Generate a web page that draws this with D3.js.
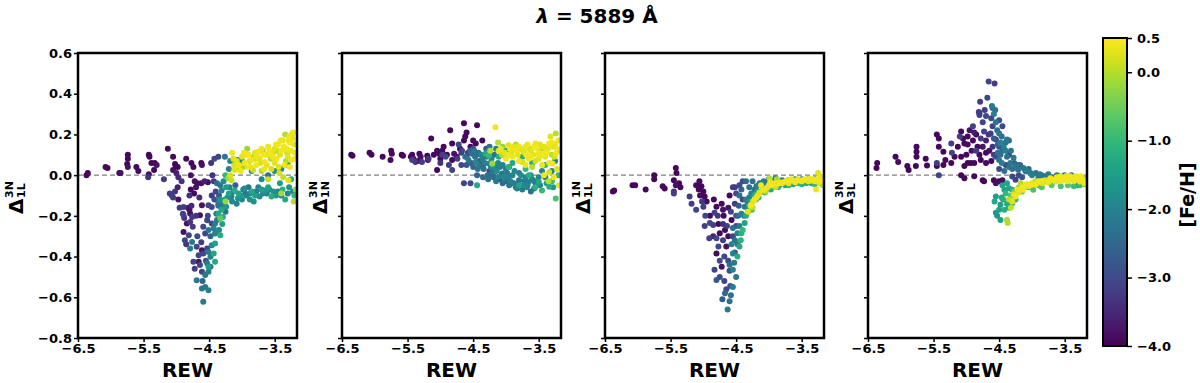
<!DOCTYPE html>
<html>
<head>
<meta charset="utf-8">
<style>
  body { margin: 0; background: #fff; }
  svg { font-family: 'DejaVu Sans', sans-serif; font-weight: bold; }
  .axis .domain { display: none; }
  .axis .tick line { stroke: #000; stroke-width: 1.5px; }
  .axis .tick text { font-size: 13px; font-weight: bold; fill: #000; font-family: 'DejaVu Sans', sans-serif; }
</style>
</head>
<body>
<svg width="1200" height="383"></svg>
<script src="https://d3js.org/d3.v7.min.js"></script>
<script>
// tick values
const xTicks = [-6.5, -5.5, -4.5, -3.5];
const yTicks = [-0.8, -0.6, -0.4, -0.2, 0.0, 0.2, 0.4, 0.6];
const cbTicks = [0.5, 0.0, -1.0, -2.0, -3.0, -4.0];

// y label scripts per panel: Delta^{sup}_{sub}
const labelSup = ["3N", "3N", "1N", "3N"];
const labelSub = ["1L", "1N", "1L", "3L"];

// points: [REW, delta, [Fe/H]]
const panel1 = [
  [-6.37,0.00,-3.9],[-6.35,0.01,-3.9],[-6.08,0.04,-3.9],[-6.05,0.035,-3.9],[-5.87,0.01,-3.9],[-5.85,0.01,-3.8],
  [-5.74,0.10,-3.9],[-5.74,0.08,-3.9],[-5.75,0.055,-3.9],[-5.74,0.04,-3.8],[-5.61,0.04,-3.9],[-5.58,0.02,-3.9],
  [-5.42,0.10,-3.9],[-5.41,0.09,-3.9],[-5.38,0.06,-3.9],[-5.33,0.06,-3.9],[-5.30,0.05,-3.8],[-5.34,0.025,-3.9],[-5.42,0.005,-3.8],[-5.43,-0.01,-3.3],
  [-5.13,0.13,-3.9],[-5.05,0.09,-3.9],[-5.02,0.055,-3.9],[-5.01,0.045,-3.9],[-4.98,0.04,-3.9],[-5.05,0.025,-3.8],[-5.00,0.01,-3.6],
  [-4.85,0.08,-3.9],[-4.77,0.06,-3.9],[-4.74,0.04,-3.9],[-4.62,0.06,-3.9],[-4.61,0.05,-3.8],[-4.47,0.06,-3.3],[-4.42,0.08,-3.0],[-4.36,0.09,-3.1],
  [-5.19,-0.02,-3.2],[-4.97,-0.01,-3.5],[-4.92,-0.03,-3.3],[-4.78,0.00,-3.8],[-4.72,-0.03,-3.8],[-4.68,-0.04,-3.9],[-4.62,-0.04,-3.8],[-4.57,-0.03,-3.6],
  [-4.45,0.00,-3.3],[-4.43,-0.03,-3.2],[-4.52,-0.035,-3.9],
  [-5.02,-0.08,-3.3],[-4.98,-0.06,-3.6],[-5.07,-0.10,-3.2],[-4.78,-0.07,-3.9],[-4.73,-0.09,-3.9],[-4.70,-0.06,-3.8],[-4.80,-0.10,-3.4],[-4.65,-0.11,-3.5],
  [-5.10,-0.09,-3.2],[-5.05,-0.11,-3.2],[-4.97,-0.12,-3.8],[-4.95,-0.16,-3.2],[-4.90,-0.19,-3.2],[-4.88,-0.21,-3.3],[-4.82,-0.16,-3.8],[-4.80,-0.17,-3.8],[-4.77,-0.15,-3.5],
  [-4.89,-0.156,-3.2],[-4.89,-0.197,-3.1],[-4.79,-0.188,-3.8],[-4.76,-0.205,-3.2],[-4.84,-0.238,-3.8],[-4.79,-0.23,-3.3],[-4.75,-0.254,-3.2],
  [-4.64,-0.197,-3.8],[-4.61,-0.148,-3.8],[-4.51,-0.148,-3.1],[-4.46,-0.156,-3.0],[-4.36,-0.14,-2.2],[-4.25,-0.13,-0.2],[-4.31,-0.164,-2.2],
  [-4.36,-0.188,-1.3],[-4.33,-0.213,-0.6],[-4.41,-0.238,-2.1],[-4.46,-0.238,-3.0],[-4.53,-0.221,-3.1],[-4.59,-0.254,-3.1],[-4.56,-0.287,-3.1],
  [-4.51,-0.27,-2.2],[-4.43,-0.262,-2.0],[-4.41,-0.287,-2.0],[-4.33,-0.295,-1.2],[-4.89,-0.279,-3.8],[-4.81,-0.295,-3.1],[-4.87,-0.32,-3.1],
  [-4.76,-0.328,-2.2],[-4.79,-0.36,-2.1],[-4.69,-0.352,-3.0],[-4.66,-0.393,-3.1],[-4.61,-0.369,-3.8],[-4.59,-0.385,-3.1],[-4.53,-0.36,-3.1],
  [-4.51,-0.377,-2.2],[-4.48,-0.401,-2.1],[-4.43,-0.385,-1.3],[-4.41,-0.336,-1.4],[-4.46,-0.344,-2.0],[-4.41,-0.426,-1.3],[-4.74,-0.426,-3.1],
  [-4.66,-0.426,-3.8],[-4.64,-0.442,-3.1],[-4.53,-0.434,-2.2],[-4.51,-0.45,-1.5],[-4.61,-0.475,-3.1],[-4.56,-0.491,-2.2],[-4.51,-0.475,-2.1],
  [-4.69,-0.516,-2.2],[-4.61,-0.557,-2.2],[-4.56,-0.549,-2.2],[-4.51,-0.565,-2.1],[-4.59,-0.622,-2.2],
  [-4.70,-0.20,-3.3],[-4.68,-0.30,-3.0],[-4.62,-0.33,-3.2],[-4.55,-0.42,-2.8],[-4.48,-0.45,-2.3],[-4.60,-0.52,-2.6],[-4.72,-0.46,-3.2],
  [-4.85,-0.34,-3.3],[-4.52,-0.20,-3.0],[-4.48,-0.30,-2.6],
  [-4.15,0.11,0.4],[-4.08,0.07,0.3],[-4.05,0.05,0.4],[-4.11,0.025,0.3],[-4.18,0.00,0.2],[-4.16,-0.025,0.1],[-4.21,-0.015,-0.2],[-4.00,0.09,0.3],
  [-3.96,0.06,0.4],[-3.93,0.10,0.3],[-3.90,0.10,0.4],[-3.88,0.07,0.2],[-3.85,0.075,0.4],[-3.83,0.025,0.1],[-3.80,0.11,0.3],[-3.78,0.05,0.4],
  [-3.75,0.115,0.4],[-3.73,0.08,0.3],[-3.70,0.13,0.4],[-3.68,0.12,0.0],[-3.65,0.065,0.4],[-3.63,0.10,0.3],[-3.60,0.14,0.4],[-3.57,0.105,0.4],
  [-3.55,0.03,0.2],[-3.53,0.09,0.4],[-3.50,0.06,0.3],[-3.48,0.15,0.4],[-3.46,0.12,0.0],[-3.45,0.15,0.4],[-3.43,0.01,0.2],[-3.40,0.12,0.4],
  [-3.38,0.17,0.3],[-3.37,-0.01,0.1],[-3.35,0.05,0.4],[-3.34,0.20,0.0],[-3.32,0.13,0.4],[-3.30,0.09,0.3],[-3.29,0.17,0.4],[-3.29,-0.025,0.3],
  [-3.27,0.04,0.4],[-3.25,0.12,0.4],[-3.24,0.20,0.0],[-3.22,0.21,0.4],[-3.20,0.15,0.3],[-3.19,0.08,0.4],[-3.18,-0.07,-0.3],[-3.24,0.075,0.4],
  [-3.40,-0.09,-0.1],[-3.21,-0.13,0.0],[-3.70,0.02,0.0],[-3.60,-0.02,0.1],[-3.98,0.04,-0.1],[-3.92,0.13,-0.2],
  [-4.12,0.05,0.2],[-4.02,0.02,0.4],[-3.97,0.11,0.4],[-3.87,0.04,0.3],[-3.82,0.09,0.0],[-3.77,0.09,0.4],[-3.72,0.06,0.2],[-3.67,0.10,0.4],
  [-3.62,0.05,0.3],[-3.58,0.12,0.4],[-3.52,0.11,0.2],[-3.47,0.08,0.4],[-3.42,0.10,0.3],[-3.36,0.14,0.4],[-3.31,0.11,0.2],[-3.27,0.16,0.4],
  [-3.23,0.18,0.3],[-3.19,0.11,0.4],[-3.33,0.07,0.0],[-3.44,0.04,0.3],[-3.56,0.08,0.0],[-3.66,0.03,0.4],[-3.79,0.08,0.2],[-3.90,0.04,0.4],
  [-4.04,0.03,0.0],[-4.13,0.08,0.3],[-3.41,0.17,0.4],[-3.28,0.19,0.4],[-3.50,0.13,0.3],
  [-4.11,0.065,-2.0],[-4.06,0.075,-2.1],[-4.00,0.07,-1.8],[-3.85,0.02,-2.0],[-3.70,-0.02,-1.9],[-3.60,0.00,-2.2],[-3.50,0.02,-1.8],[-3.40,0.03,-2.0],
  [-3.30,0.05,-2.0],[-3.25,-0.02,-1.2],[-4.26,0.09,-2.2],[-4.20,0.03,-2.0],[-4.18,0.07,-1.9],
  [-4.31,-0.075,-2.0],[-4.24,-0.06,-1.5],[-4.11,-0.075,-1.2],[-3.96,-0.065,-1.8],[-3.85,-0.08,-1.3],[-3.75,-0.06,-2.0],[-3.65,-0.075,-1.6],
  [-3.55,-0.105,-1.2],[-3.45,-0.08,-2.0],[-3.34,-0.12,-1.3],[-3.73,-0.105,-1.8],[-3.93,-0.10,-2.0],[-4.06,-0.115,-1.7],[-4.16,-0.105,-2.1],
  [-4.26,-0.12,-1.5],[-4.36,-0.15,-2.2],[-4.31,-0.17,-1.3],[-4.24,-0.155,-1.6],[-4.39,-0.19,-2.3],[-4.29,-0.205,-1.2],[-4.20,-0.09,-1.4],
  [-4.15,-0.13,-1.9],[-4.05,-0.09,-1.4],[-4.00,-0.12,-1.9],[-3.90,-0.06,-2.3],[-3.80,-0.10,-1.5],[-3.68,-0.09,-1.9],[-3.60,-0.06,-1.4],
  [-3.52,-0.08,-1.7],[-3.42,-0.04,-1.5],[-3.38,-0.07,-1.1],[-3.30,-0.09,-2.0],[-3.20,-0.10,-1.0],[-3.82,-0.13,-1.7],[-3.95,-0.09,-2.4],
  [-4.10,-0.05,-2.6],[-4.35,-0.10,-2.8],[-4.40,-0.08,-3.0],[-4.42,-0.12,-2.9],[-4.46,-0.10,-3.2],[-4.38,-0.04,-2.4],[-4.33,-0.05,-2.2],
  [-4.28,-0.03,-1.8],[-4.25,0.00,-1.0],
  [-4.22,-0.11,-1.8],[-4.13,-0.08,-2.2],[-4.02,-0.10,-1.6],[-3.98,-0.07,-2.0],[-3.88,-0.09,-1.9],[-3.78,-0.08,-2.1],[-3.70,-0.07,-1.5],
  [-3.62,-0.09,-2.0],[-3.58,-0.07,-1.8],[-3.48,-0.10,-1.6],[-3.40,-0.10,-2.0],[-3.28,-0.06,-1.6],[-3.22,-0.08,-2.0],[-4.28,-0.14,-2.0],
  [-4.34,-0.12,-1.7],[-4.25,-0.18,-2.3],[-4.19,-0.06,-2.0],[-4.08,-0.14,-2.0],[-3.88,-0.12,-1.7],[-4.30,-0.24,-1.5],[-4.38,-0.22,-2.2],[-4.35,-0.27,-1.9]
];

const panel2 = [
  [-6.36,0.10,-3.9],[-6.34,0.095,-3.9],[-6.08,0.11,-3.9],[-6.05,0.10,-3.9],[-5.88,0.09,-3.9],[-5.75,0.12,-3.9],[-5.74,0.105,-3.9],[-5.76,0.075,-3.9],
  [-5.59,0.10,-3.9],[-5.57,0.095,-3.9],[-5.43,0.10,-3.9],[-5.41,0.08,-3.8],[-5.34,0.07,-3.9],[-5.32,0.105,-3.9],[-5.20,0.095,-3.9],[-5.19,0.075,-3.8],
  [-5.14,0.18,-3.9],[-5.05,0.12,-3.9],[-5.02,0.105,-3.9],[-5.00,0.08,-3.9],[-5.05,0.025,-3.9],[-4.97,0.12,-3.9],[-4.85,0.22,-3.9],[-4.82,0.155,-3.9],
  [-4.79,0.105,-3.8],[-4.82,0.075,-3.9],[-4.64,0.255,-3.9],[-4.64,0.17,-3.9],[-4.62,0.19,-3.9],[-4.44,0.245,-3.9],[-4.46,0.155,-3.9],[-4.36,0.17,-3.9],
  [-4.54,0.14,-3.9],[-5.45,0.09,-3.9],[-5.30,0.09,-3.8],[-5.10,0.10,-3.9],[-4.90,0.10,-3.9],[-4.95,0.14,-3.9],[-4.70,0.13,-3.9],[-4.60,0.21,-3.9],
  [-4.75,0.09,-3.9],[-4.50,0.17,-3.9],
  [-5.43,0.075,-3.2],[-5.28,0.065,-3.2],[-5.18,0.08,-3.3],[-4.97,0.10,-3.2],[-4.92,0.09,-3.0],[-4.87,0.05,-3.2],[-4.82,0.025,-3.1],[-4.72,0.15,-3.0],
  [-4.67,0.12,-3.1],[-4.74,0.08,-3.2],[-4.64,-0.04,-3.1],[-4.54,-0.04,-3.0],[-4.60,0.09,-3.3],[-4.68,0.05,-3.0],[-4.58,0.11,-3.1],[-4.50,0.13,-3.0],
  [-4.45,0.10,-2.9],[-4.40,0.07,-3.0],[-4.35,0.04,-2.9],[-4.20,0.00,-3.1],[-4.10,-0.02,-3.0],[-4.00,-0.03,-3.0],[-3.90,-0.04,-2.9],[-5.00,0.06,-3.3],
  [-5.38,0.065,-3.3],[-4.25,0.02,-3.2],[-4.30,0.13,-3.0],[-4.68,0.11,-3.2],
  [-4.62,0.09,-2.3],[-4.57,0.075,-2.2],[-4.52,0.105,-2.4],[-4.46,0.065,-2.0],[-4.41,0.05,-2.2],[-4.36,0.08,-2.1],[-4.34,0.03,-2.3],[-4.26,0.057,-2.0],
  [-4.21,0.016,-2.2],[-4.16,0.04,-2.1],[-4.11,-0.008,-2.0],[-4.06,0.008,-2.2],[-4.01,-0.025,-2.3],[-3.96,-0.008,-2.0],[-3.88,-0.04,-2.1],[-3.83,-0.065,-2.0],
  [-3.80,-0.025,-2.2],[-3.73,-0.05,-1.9],[-3.65,-0.033,-2.0],[-3.57,-0.065,-2.1],[-3.85,-0.06,-2.0],[-4.55,0.12,-2.6],[-4.48,0.12,-2.2],[-4.42,0.11,-2.4],
  [-4.38,0.10,-2.0],[-4.30,0.09,-2.2],[-4.28,0.12,-2.1],[-4.22,0.08,-2.0],[-4.18,0.10,-2.2],[-4.12,0.06,-1.9],[-4.05,0.05,-2.0],[-4.00,0.03,-2.2],
  [-3.95,0.04,-1.9],[-3.90,0.00,-2.0],[-3.80,0.01,-2.1],[-3.70,-0.01,-2.0],[-3.60,-0.02,-2.0],[-3.50,-0.01,-1.9],[-3.45,0.02,-2.0],[-3.40,-0.01,-2.2],
  [-3.30,0.02,-2.0],[-3.25,0.07,-2.0],[-4.50,0.04,-2.5],[-4.44,0.00,-2.6],[-4.35,-0.01,-2.4],[-4.27,-0.02,-2.3],[-4.15,-0.03,-2.2],[-4.05,-0.04,-2.4],
  [-3.95,-0.05,-2.2],[-3.75,-0.07,-2.2],[-3.68,-0.06,-2.0],[-3.62,-0.08,-2.3],[-3.55,-0.04,-2.1],[-4.15,0.13,-2.0],[-4.25,0.14,-2.3],
  [-4.60,0.05,-2.8],[-4.53,0.06,-2.6],[-4.47,0.09,-2.3],[-4.43,0.03,-2.2],[-4.39,0.06,-2.6],[-4.32,0.06,-2.0],[-4.28,0.00,-2.4],[-4.23,0.04,-1.9],
  [-4.19,-0.01,-2.3],[-4.14,0.02,-1.8],[-4.09,0.04,-2.1],[-4.03,-0.01,-1.9],[-3.98,0.01,-2.2],[-3.93,-0.03,-2.0],[-3.87,0.02,-1.9],[-3.82,-0.04,-2.3],
  [-3.77,0.00,-1.8],[-3.72,-0.03,-2.2],[-3.67,-0.05,-1.9],[-3.62,0.00,-1.8],[-3.56,-0.03,-2.2],[-3.48,-0.05,-2.0],[-3.38,-0.04,-1.5],[-3.28,-0.06,-1.6],
  [-4.44,-0.05,-1.3],[-4.31,0.105,-1.2],[-4.26,0.095,-1.0],[-4.11,0.09,-1.2],[-3.96,0.04,-1.1],[-3.65,0.00,-1.2],[-3.45,-0.075,-1.0],[-3.34,-0.057,-1.2],
  [-3.24,-0.115,-0.8],[-3.50,-0.033,-1.3],[-4.20,0.05,-1.4],[-4.05,0.10,-1.0],[-3.90,0.06,-1.3],[-3.80,-0.05,-1.4],[-3.70,0.03,-1.0],[-3.55,-0.06,-1.1],
  [-3.40,0.05,-1.0],[-3.30,-0.03,-0.9],[-3.20,0.00,-1.0],[-4.00,0.12,-1.4],[-3.75,0.09,-1.2],[-3.60,0.06,-1.3],
  [-4.16,0.235,0.4],[-4.24,0.12,0.0],[-4.11,0.12,0.3],[-3.96,0.147,0.3],[-3.85,0.12,0.4],[-3.78,0.13,0.0],[-3.70,0.14,0.4],[-3.62,0.12,0.3],
  [-3.55,0.155,0.4],[-3.45,0.13,0.0],[-3.34,0.155,0.4],[-3.24,0.205,0.0],[-3.32,0.19,0.3],[-3.50,0.105,0.4],[-3.40,0.09,0.3],[-3.65,0.08,0.4],
  [-3.75,0.065,0.2],[-3.90,0.09,0.4],[-4.06,0.10,0.0],[-3.29,0.057,0.4],[-3.34,0.016,0.2],[-3.24,0.105,0.4],[-3.60,0.04,0.0],[-3.45,0.05,0.4],
  [-4.21,0.057,-0.2],[-4.00,0.08,0.4],[-3.92,0.11,0.2],[-3.82,0.10,0.3],[-3.72,0.11,0.0],[-3.67,0.15,0.4],[-3.58,0.10,0.3],[-3.52,0.13,0.4],
  [-3.42,0.14,0.3],[-3.38,0.11,0.4],[-3.28,0.14,0.3],[-3.20,0.17,0.4],[-3.18,0.12,0.2],[-3.22,0.03,0.3],[-3.27,-0.01,0.4],[-3.35,-0.03,0.0],
  [-3.19,-0.05,0.3],[-3.42,0.00,0.4],[-3.55,0.07,0.2],[-3.85,0.15,0.0],[-4.05,0.14,-0.3],[-4.12,0.16,0.0],[-3.70,0.05,0.4],[-3.30,0.10,0.0],
  [-3.25,0.15,0.3],
  [-4.08,0.13,0.4],[-4.02,0.11,0.3],[-3.94,0.13,0.4],[-3.88,0.14,0.3],[-3.80,0.14,0.4],[-3.74,0.12,0.3],[-3.69,0.10,0.4],[-3.64,0.13,0.0],
  [-3.57,0.14,0.4],[-3.48,0.15,0.3],[-3.44,0.10,0.4],[-3.36,0.13,0.3],[-3.30,0.16,0.4],[-3.22,0.13,0.4],[-3.26,0.09,0.2],[-3.34,0.06,0.4],
  [-3.50,0.08,0.3],[-3.62,0.09,0.4],[-3.80,0.07,0.4],[-3.96,0.10,0.4]
];

const panel3 = [
  [-6.38,-0.08,-3.9],[-6.36,-0.075,-3.9],[-6.08,-0.05,-3.9],[-6.04,-0.05,-3.9],[-5.88,-0.07,-3.9],[-5.75,0.00,-3.9],[-5.75,-0.02,-3.9],[-5.62,-0.055,-3.9],
  [-5.59,-0.065,-3.9],[-5.42,0.035,-3.9],[-5.41,0.01,-3.9],[-5.45,-0.025,-3.9],[-5.37,-0.04,-3.9],[-5.42,-0.05,-3.8],[-5.11,-0.05,-3.9],[-5.06,-0.03,-3.9],
  [-5.03,-0.055,-3.9],[-5.00,-0.08,-3.9],[-5.07,-0.07,-3.9],[-4.98,-0.105,-3.9],[-4.84,-0.12,-3.9],[-4.80,-0.155,-3.9],[-4.72,-0.14,-3.9],[-4.70,-0.17,-3.8],
  [-4.80,-0.385,-3.9],[-4.75,-0.285,-3.9],[-4.67,-0.27,-3.9],[-4.65,-0.35,-3.8],[-4.69,-0.20,-3.9],[-4.57,-0.22,-3.9],[-4.60,-0.10,-3.9],[-4.95,-0.13,-3.9],
  [-4.90,-0.20,-3.9],[-4.77,-0.24,-3.9],[-4.62,-0.30,-3.9],[-4.72,-0.45,-3.8],[-5.35,-0.06,-3.9],[-5.05,-0.10,-3.9],
  [-4.70,-0.24,-3.4],[-4.78,-0.20,-3.3],[-4.62,-0.16,-3.8],[-4.52,-0.06,-3.3],[-4.85,-0.30,-3.6],
  [-5.45,-0.09,-3.2],[-5.45,-0.08,-3.3],[-5.21,-0.105,-3.2],[-5.18,-0.14,-3.2],[-5.11,-0.17,-3.1],[-5.00,-0.155,-3.2],[-4.97,-0.20,-3.1],[-4.83,-0.185,-3.2],
  [-4.90,-0.235,-3.1],[-4.85,-0.245,-3.2],[-4.91,-0.31,-3.2],[-4.80,-0.31,-3.1],[-4.77,-0.35,-3.0],[-4.70,-0.32,-3.2],[-4.83,-0.465,-3.1],[-4.80,-0.515,-2.8],
  [-4.75,-0.50,-3.0],[-4.71,-0.61,-2.7],[-4.65,-0.56,-3.0],[-4.59,-0.545,-2.9],[-4.75,-0.42,-3.0],[-4.68,-0.40,-3.1],[-4.62,-0.42,-3.0],[-4.64,-0.25,-3.2],
  [-4.58,-0.18,-3.1],[-4.52,-0.14,-3.2],[-4.50,-0.09,-3.0],[-4.55,-0.06,-3.2],[-4.45,-0.05,-3.0],[-4.40,-0.12,-3.0],[-4.40,-0.03,-2.9],[-4.50,-0.25,-3.0],
  [-4.55,-0.30,-3.1],[-4.60,-0.47,-3.0],[-4.68,-0.52,-3.1],[-4.98,-0.25,-3.2],[-5.02,-0.13,-3.3],[-4.52,-0.38,-2.9],[-4.50,-0.20,-2.8],[-4.46,-0.15,-2.7],
  [-4.63,-0.66,-2.2],[-4.60,-0.62,-2.3],[-4.55,-0.385,-2.0],[-4.53,-0.43,-2.2],[-4.55,-0.465,-2.0],[-4.50,-0.50,-2.2],[-4.55,-0.55,-2.1],[-4.57,-0.34,-2.0],
  [-4.52,-0.32,-2.3],[-4.48,-0.285,-2.0],[-4.45,-0.25,-2.1],[-4.42,-0.19,-2.0],[-4.37,-0.155,-2.2],[-4.35,-0.12,-2.1],[-4.27,-0.09,-2.0],[-4.19,-0.055,-2.3],
  [-4.11,-0.04,-2.0],[-4.04,-0.04,-2.2],[-3.88,-0.03,-2.0],[-4.14,-0.04,-2.3],[-4.30,-0.06,-2.4],[-4.35,-0.03,-2.5],[-4.25,-0.03,-2.3],[-3.95,-0.03,-2.3],
  [-3.80,-0.025,-2.0],[-3.70,-0.025,-2.1],[-3.60,-0.02,-2.0],[-3.50,-0.02,-2.2],[-3.40,-0.02,-2.0],[-3.30,-0.02,-2.1],[-3.20,-0.015,-2.0],[-3.18,-0.04,-2.2],
  [-4.45,-0.10,-2.4],[-4.58,-0.59,-2.3],[-4.67,-0.58,-2.5],[-4.47,-0.20,-2.4],[-4.42,-0.07,-2.6],[-4.60,-0.44,-2.4],[-4.48,-0.34,-2.2],[-4.55,-0.26,-2.4],
  [-4.30,-0.11,-2.1],[-4.22,-0.07,-2.2],[-4.16,-0.05,-2.0],[-4.08,-0.03,-2.2],[-4.00,-0.02,-2.1],[-3.90,-0.015,-2.2],[-4.33,-0.13,-2.0],[-4.38,-0.20,-2.1],
  [-4.48,-0.40,-1.2],[-4.45,-0.35,-1.3],[-4.42,-0.285,-1.2],[-4.37,-0.235,-1.4],[-4.35,-0.20,-1.2],[-4.30,-0.155,-1.3],[-4.27,-0.13,-1.4],[-4.22,-0.10,-1.2],
  [-4.17,-0.08,-1.3],[-4.09,-0.065,-1.2],[-3.99,-0.055,-1.3],[-3.84,-0.05,-1.2],[-3.63,-0.045,-1.3],[-3.43,-0.04,-1.2],[-3.28,-0.035,-1.3],[-4.20,-0.12,-1.0],
  [-4.10,-0.08,-1.5],[-3.95,-0.06,-1.0],[-3.75,-0.05,-1.4],[-3.55,-0.04,-1.0],[-3.35,-0.04,-1.4],[-3.20,-0.04,-1.1],[-4.43,-0.32,-1.1],[-4.40,-0.27,-1.0],
  [-4.32,-0.18,-1.0],[-4.26,-0.17,-1.0],[-4.16,-0.11,-1.2],[-4.06,-0.085,-1.1],[-3.97,-0.07,-1.3],[-3.86,-0.06,-1.0],[-3.70,-0.05,-1.1],[-3.50,-0.045,-1.2],
  [-3.30,-0.045,-1.0],
  [-4.32,-0.18,0.3],[-4.27,-0.145,0.3],[-4.22,-0.12,0.4],[-4.17,-0.10,0.3],[-4.09,-0.07,0.4],[-4.02,-0.06,0.3],[-3.94,-0.045,0.4],[-3.84,-0.035,0.3],
  [-3.74,-0.03,0.4],[-3.63,-0.028,0.3],[-3.53,-0.026,0.4],[-3.43,-0.023,0.3],[-3.33,-0.02,0.4],[-3.25,0.01,0.3],[-3.28,-0.07,0.4],[-3.99,-0.015,0.0],
  [-4.25,-0.16,0.0],[-4.15,-0.09,0.0],[-4.05,-0.08,0.0],[-3.90,-0.06,0.1],[-3.80,-0.04,0.4],[-3.70,-0.04,0.3],[-3.60,-0.035,0.4],[-3.50,-0.03,0.4],
  [-3.40,-0.03,0.3],[-3.30,-0.03,0.4],[-3.22,-0.03,0.4],[-3.20,-0.01,0.3],[-3.88,-0.02,-0.1],[-3.18,-0.05,0.0],[-4.12,-0.05,0.4],[-3.98,-0.035,0.4],
  [-3.88,-0.045,0.3],[-3.66,-0.02,0.4],[-3.45,-0.02,0.4],
  [-4.28,-0.15,0.4],[-4.24,-0.13,0.3],[-4.19,-0.11,0.4],[-4.14,-0.085,0.3],[-4.07,-0.07,0.4],[-4.00,-0.05,0.4],[-3.96,-0.05,0.3],[-3.91,-0.04,0.4],
  [-3.86,-0.04,0.4],[-3.78,-0.035,0.4],[-3.72,-0.03,0.3],[-3.68,-0.025,0.4],[-3.58,-0.028,0.4],[-3.56,-0.02,0.3],[-3.48,-0.025,0.4],[-3.38,-0.018,0.4],
  [-3.36,-0.028,0.3],[-3.26,-0.02,0.4],[-3.24,-0.035,0.3]
];

const panel4 = [
  [-6.36,0.06,-3.9],[-6.37,0.035,-3.9],[-6.08,0.09,-3.9],[-6.04,0.065,-3.9],[-5.90,0.045,-3.9],[-5.88,0.025,-3.9],[-5.76,0.14,-3.9],[-5.76,0.115,-3.9],
  [-5.76,0.09,-3.9],[-5.77,0.045,-3.9],[-5.62,0.08,-3.9],[-5.60,0.047,-3.9],[-5.45,0.20,-3.9],[-5.42,0.18,-3.9],[-5.42,0.14,-3.9],[-5.45,0.045,-3.9],
  [-5.35,0.115,-3.9],[-5.32,0.075,-3.9],[-5.35,0.05,-3.9],[-5.23,0.06,-3.9],[-5.18,0.09,-3.9],[-5.13,0.14,-3.9],[-5.08,0.215,-3.9],[-5.05,0.18,-3.9],
  [-5.03,0.155,-3.9],[-5.08,0.09,-3.9],[-5.03,0.045,-3.9],[-5.08,0.00,-3.9],[-5.03,-0.015,-3.9],[-4.98,0.06,-3.9],[-4.93,0.06,-3.9],[-4.88,0.06,-3.9],
  [-4.98,0.19,-3.9],[-4.98,0.15,-3.9],[-4.83,0.14,-3.9],[-4.78,0.075,-3.9],[-4.75,-0.025,-3.9],[-4.73,-0.03,-3.9],[-4.70,0.11,-3.9],[-4.58,-0.025,-3.9],
  [-4.50,-0.03,-3.9],[-4.45,-0.025,-3.9],[-4.88,-0.005,-3.9],[-4.95,0.22,-3.8],[-4.90,0.17,-3.9],[-4.85,0.20,-3.9],[-4.80,0.10,-3.9],[-4.65,0.12,-3.8],
  [-4.62,0.07,-3.9],[-4.70,0.06,-3.9],[-4.55,-0.04,-3.8],
  [-4.75,0.14,-3.8],[-4.88,0.21,-3.7],[-4.92,0.12,-3.8],[-5.00,0.10,-3.9],[-4.70,0.17,-3.6],[-4.66,0.20,-3.4],
  [-5.45,0.06,-3.2],[-5.42,0.00,-3.1],[-5.23,0.155,-3.2],[-5.22,0.11,-3.1],[-5.10,0.19,-3.2],[-4.90,0.24,-3.1],[-4.80,0.305,-3.2],[-4.79,0.36,-3.2],
  [-4.68,0.38,-3.0],[-4.66,0.46,-3.1],[-4.57,0.45,-3.2],[-4.78,0.18,-3.2],[-4.73,0.215,-3.1],[-4.63,0.205,-3.2],[-4.55,0.175,-3.1],[-4.50,0.14,-3.0],
  [-4.60,0.24,-3.1],[-4.62,0.28,-3.0],[-4.50,0.27,-2.9],[-4.45,0.24,-3.0],[-4.81,0.31,-3.3],[-4.80,0.295,-3.2],[-4.85,0.12,-3.2],[-4.75,0.26,-3.1],
  [-4.70,0.29,-3.0],[-4.55,0.09,-3.0],[-4.30,-0.007,-3.0],[-4.25,-0.023,-3.1],[-4.20,0.00,-3.0],[-4.40,0.05,-3.0],[-4.35,0.10,-3.1],[-4.15,-0.01,-2.9],
  [-4.72,0.32,-3.2],[-4.60,0.14,-3.3],[-4.58,0.10,-3.2],[-4.50,0.03,-3.0],
  [-4.61,0.34,-2.2],[-4.56,0.32,-2.3],[-4.58,0.30,-2.1],[-4.55,0.26,-2.2],[-4.50,0.205,-2.2],[-4.46,0.19,-2.3],[-4.38,0.175,-2.2],[-4.43,0.14,-2.1],
  [-4.35,0.17,-2.4],[-4.52,0.11,-2.3],[-4.50,0.075,-2.2],[-4.46,0.06,-2.1],[-4.38,0.09,-2.3],[-4.33,0.06,-2.2],[-4.28,0.085,-2.2],[-4.25,0.042,-2.2],
  [-4.21,0.026,-2.3],[-4.13,0.035,-2.2],[-4.08,0.018,-2.1],[-4.02,0.01,-2.2],[-3.94,0.01,-2.3],[-3.85,0.00,-2.2],[-3.75,0.005,-2.1],[-3.58,-0.006,-2.2],
  [-3.43,-0.006,-2.3],[-3.28,-0.023,-2.1],[-4.48,0.10,-2.4],[-4.60,0.33,-2.5],[-4.53,0.22,-2.4],[-4.48,0.16,-2.0],[-4.40,0.12,-2.1],[-4.42,0.02,-2.4],
  [-4.30,0.03,-2.3],[-4.18,0.05,-2.5],[-4.05,0.03,-2.4],[-3.90,-0.01,-2.2],[-3.70,-0.01,-2.2],[-3.50,0.00,-2.3],[-3.35,-0.01,-2.2],[-3.20,-0.02,-2.2],
  [-3.65,-0.03,-2.0],[-3.30,-0.05,-2.0],[-3.18,-0.04,-2.1],
  [-4.10,0.02,-2.2],[-4.00,0.00,-2.1],[-3.88,0.005,-2.2],[-3.80,-0.005,-2.3],[-3.62,0.00,-2.1],[-3.40,0.00,-2.2],[-3.25,-0.01,-2.1],[-4.22,0.05,-2.4],
  [-4.35,0.04,-2.3],[-4.45,0.12,-2.5],[-4.40,0.16,-2.3],[-4.32,0.12,-2.2],[-4.27,0.06,-2.6],[-4.52,0.15,-2.5],[-4.58,0.18,-2.7],
  [-4.38,-0.04,-1.3],[-4.35,-0.064,-1.4],[-4.30,-0.072,-1.2],[-4.42,-0.072,-1.4],[-4.46,-0.11,-1.3],[-4.55,-0.105,-1.4],[-4.57,-0.13,-1.3],[-4.48,-0.145,-1.5],
  [-4.38,-0.14,-1.3],[-4.35,-0.16,-1.2],[-4.53,-0.20,-1.6],[-4.48,-0.22,-1.5],[-4.55,-0.185,-1.6],[-4.30,-0.138,-1.0],[-4.25,-0.12,-1.1],[-4.08,-0.055,-1.0],
  [-3.98,-0.072,-0.8],[-3.56,-0.055,-0.8],[-3.36,-0.055,-0.9],[-3.27,-0.05,-1.0],[-4.42,-0.17,-1.2],[-4.45,-0.05,-1.4],[-4.15,-0.08,-0.6],[-3.85,-0.06,-0.7],
  [-3.70,-0.05,-0.6],[-3.45,-0.05,-0.7],[-3.20,-0.045,-0.6],
  [-4.50,-0.17,-1.4],[-4.44,-0.12,-1.2],[-4.40,-0.09,-1.0],[-4.32,-0.10,-0.8],[-4.27,-0.08,-0.5],[-4.20,-0.06,-0.4],[-4.05,-0.06,-0.8],[-3.90,-0.05,-0.9],
  [-4.38,-0.22,-0.1],[-4.37,-0.235,0.0],[-4.30,-0.13,0.3],[-4.25,-0.105,0.4],[-4.20,-0.085,0.3],[-4.13,-0.072,0.4],[-4.05,-0.055,0.3],[-3.95,-0.047,0.4],
  [-3.84,-0.04,0.3],[-3.74,-0.031,0.4],[-3.64,-0.031,0.3],[-3.54,-0.026,0.4],[-3.44,-0.023,0.3],[-3.34,-0.023,0.4],[-3.27,-0.031,0.3],[-3.57,-0.007,0.4],
  [-3.47,-0.003,0.3],[-3.37,-0.01,0.4],[-4.17,-0.04,0.0],[-4.28,-0.095,0.3],[-4.22,-0.07,0.4],[-4.10,-0.05,0.4],[-4.00,-0.04,0.3],[-3.90,-0.03,0.4],
  [-3.80,-0.025,0.3],[-3.70,-0.02,0.4],[-3.60,-0.02,0.3],[-3.50,-0.015,0.4],[-3.40,-0.015,0.3],[-3.30,-0.015,0.4],[-3.22,-0.02,0.3],[-3.20,-0.04,0.4],
  [-3.25,-0.005,0.4],[-4.35,-0.12,0.0],[-4.32,-0.16,0.1],[-3.95,-0.03,0.0],
  [-4.15,-0.06,0.4],[-4.08,-0.045,0.3],[-4.02,-0.05,0.4],[-3.92,-0.04,0.3],[-3.86,-0.03,0.4],[-3.76,-0.035,0.3],[-3.66,-0.025,0.4],[-3.56,-0.03,0.3],
  [-3.46,-0.03,0.4],[-3.36,-0.03,0.3],[-3.32,-0.005,0.4],[-3.42,-0.005,0.4],[-3.52,-0.01,0.3],[-3.62,-0.01,0.4],[-3.72,-0.015,0.4],[-3.24,-0.025,0.4]
];

const panels = [panel1, panel2, panel3, panel4];

const svg = d3.select("svg");
svg.append("rect").attr("width", 1200).attr("height", 383).attr("fill", "#fff");

const plotTop = 53, plotBottom = 338, plotW = 219;
const lefts = [78, 342, 605, 868];
const fmt = d3.format(".1f");

const color = d3.scaleSequential(d3.interpolateViridis).domain([-4, 0.5]);
const y = d3.scaleLinear().domain([-0.8, 0.6]).range([plotBottom, plotTop]);

// title
svg.append("text")
  .attr("x", 597).attr("y", 23)
  .attr("text-anchor", "middle")
  .style("font-size", "20px")
  .call(t => {
    t.append("tspan").style("font-style", "italic").text("λ");
    t.append("tspan").text(" = 5889 Å");
  });

panels.forEach(function (pts, i) {
  let left = lefts[i];
  let x = d3.scaleLinear().domain([-6.5, -3.16]).range([left, left + plotW]);
  let g = svg.append("g");

  g.append("clipPath").attr("id", "clip" + i)
    .append("rect").attr("x", left).attr("y", plotTop).attr("width", plotW).attr("height", plotBottom - plotTop);

  // zero reference line
  g.append("line")
    .attr("x1", left).attr("x2", left + plotW)
    .attr("y1", y(0)).attr("y2", y(0))
    .style("stroke", "#808080")
    .style("stroke-width", 1.2)
    .style("stroke-dasharray", "5,3");

  g.append("g")
    .attr("clip-path", "url(#clip" + i + ")")
    .selectAll("circle")
    .data(pts.slice().sort((a, b) => a[2] - b[2]))
    .join("circle")
    .attr("cx", d => x(d[0]))
    .attr("cy", d => y(d[1]))
    .attr("r", 3)
    .style("fill", d => color(d[2]));

  let xAxis = d3.axisBottom(x).tickValues(xTicks).tickFormat(fmt).tickSize(4).tickPadding(2);
  g.append("g").attr("class", "axis")
    .attr("transform", `translate(0,${plotBottom})`)
    .call(xAxis);

  let yAxis = d3.axisLeft(y).tickValues(yTicks).tickSize(4).tickPadding(2)
    .tickFormat(i == 0 ? fmt : "");
  g.append("g").attr("class", "axis")
    .attr("transform", `translate(${left},0)`)
    .call(yAxis);

  g.append("rect")
    .attr("x", left).attr("y", plotTop)
    .attr("width", plotW).attr("height", plotBottom - plotTop)
    .style("fill", "none").style("stroke", "#000").style("stroke-width", 2.5);

  // x label
  g.append("text")
    .attr("x", left + plotW / 2).attr("y", 377)
    .attr("text-anchor", "middle")
    .style("font-size", "20px")
    .text("REW");

  // y label: Delta with stacked super/subscript
  let lx = i == 0 ? 23 : left - 15;
  let lab = g.append("g").attr("transform", `translate(${lx},198) rotate(-90)`);
  lab.append("text").attr("x", -16).attr("y", 0).style("font-size", "20px").text("Δ");
  lab.append("text").attr("x", 0).attr("y", -10).style("font-size", "11px").text(labelSup[i]);
  lab.append("text").attr("x", 0).attr("y", 2).style("font-size", "11px").text(labelSub[i]);
});

// colorbar
const cbX = 1103, cbW = 24, cbTop = 38, cbBottom = 346;
const grad = svg.append("defs").append("linearGradient")
  .attr("id", "viridis").attr("x1", 0).attr("y1", 1).attr("x2", 0).attr("y2", 0);
d3.range(0, 1.0001, 0.05).forEach(t => {
  grad.append("stop").attr("offset", t).attr("stop-color", d3.interpolateViridis(t));
});
svg.append("rect")
  .attr("x", cbX).attr("y", cbTop).attr("width", cbW).attr("height", cbBottom - cbTop)
  .style("fill", "url(#viridis)");
const cScale = d3.scaleLinear().domain([-4, 0.5]).range([cbBottom, cbTop]);
svg.append("g").attr("class", "axis")
  .attr("transform", `translate(${cbX + cbW},0)`)
  .call(d3.axisRight(cScale).tickValues(cbTicks).tickFormat(fmt).tickSize(5).tickPadding(5));
svg.append("rect")
  .attr("x", cbX).attr("y", cbTop).attr("width", cbW).attr("height", cbBottom - cbTop)
  .style("fill", "none").style("stroke", "#000").style("stroke-width", 2);
svg.append("text")
  .attr("transform", "translate(1194,195) rotate(-90)")
  .attr("text-anchor", "middle")
  .style("font-size", "19px")
  .text("[Fe/H]");
</script>
</body>
</html>
